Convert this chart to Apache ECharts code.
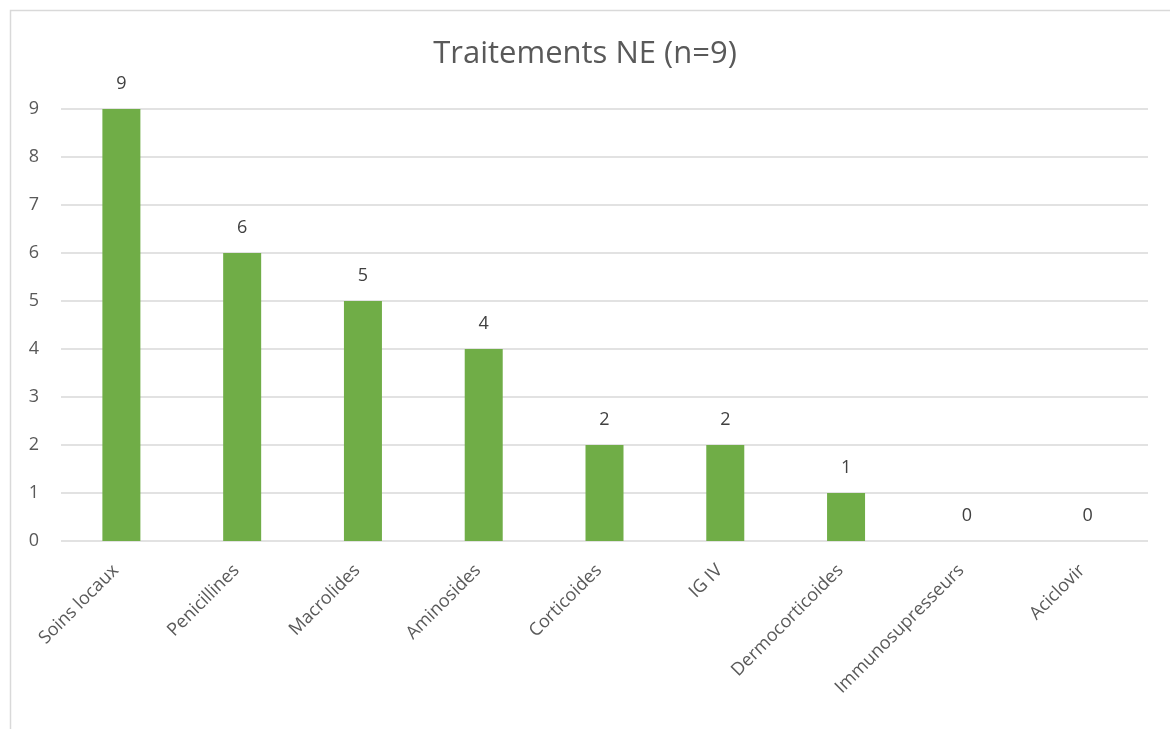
<!DOCTYPE html>
<html>
<head>
<meta charset="utf-8">
<script src="https://cdn.jsdelivr.net/npm/echarts@6/dist/echarts.min.js"></script>
<style>
  html, body { margin: 0; padding: 0; background: #fff; }
  #chart { width: 1170px; height: 729px; }
</style>
</head>
<body>
<div id="chart"></div>
<script>
// Treatments received (n = 9)
const categories = ['Soins locaux', 'Penicillines', 'Macrolides', 'Aminosides', 'Corticoides',
  'IG IV', 'Dermocorticoides', 'Immunosupresseurs', 'Aciclovir'];
const counts = [9, 6, 5, 4, 2, 2, 1, 0, 0];
const yTicks = [0, 1, 2, 3, 4, 5, 6, 7, 8, 9];

const FONT = '"Open Sans", "Liberation Sans", sans-serif';
const chart = echarts.init(document.getElementById('chart'), null, { renderer: 'canvas' });

chart.setOption({
  animation: false,
  backgroundColor: '#ffffff',
  title: {
    text: 'Traitements NE (n=9)',
    left: 'center',
    top: 34,
    textStyle: { fontFamily: FONT, fontSize: 31, fontWeight: 'normal', color: '#595959' }
  },
  graphic: [{
    type: 'rect',
    shape: { x: 10.5, y: 10.5, width: 1170, height: 740 },
    style: { fill: null, stroke: '#d9d9d9', lineWidth: 1.5 },
    silent: true
  }],
  grid: { left: 61, right: 22, top: 109, bottom: 188, containLabel: false },
  xAxis: {
    type: 'category',
    data: categories,
    axisLine: { show: false },
    axisTick: { show: false },
    axisLabel: {
      rotate: 45,
      interval: 0,
      margin: 21,
      padding: [0, 8, 0, 0],
      fontFamily: FONT,
      fontSize: 18,
      color: '#595959'
    }
  },
  yAxis: {
    type: 'value',
    min: yTicks[0],
    max: yTicks[yTicks.length - 1],
    interval: 1,
    axisLine: { show: false },
    axisTick: { show: false },
    splitLine: { lineStyle: { color: '#d9d9d9', width: 1.5 } },
    axisLabel: {
      margin: 22,
      fontFamily: FONT,
      fontSize: 18,
      color: '#595959'
    }
  },
  series: [{
    type: 'bar',
    data: counts,
    barWidth: 38,
    itemStyle: { color: '#70ad47' },
    label: {
      show: true,
      position: 'top',
      distance: 16,
      fontFamily: FONT,
      fontSize: 18,
      color: '#404040'
    }
  }]
});
</script>
</body>
</html>
